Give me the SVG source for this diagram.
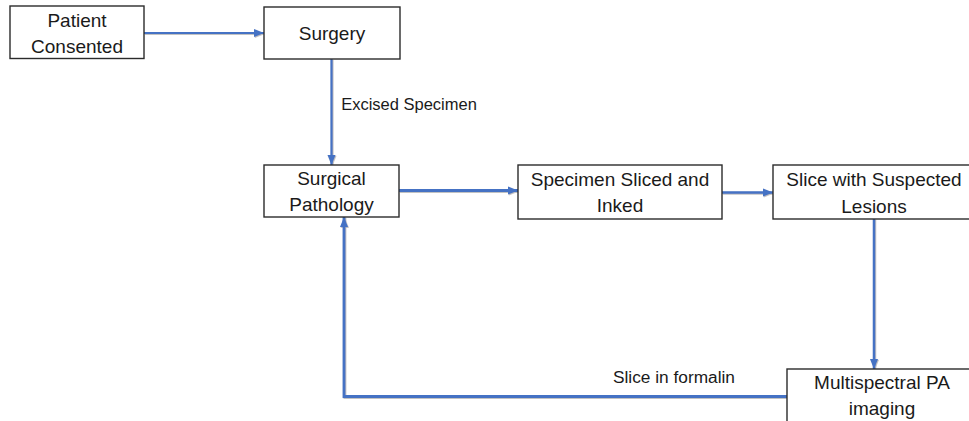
<svg xmlns="http://www.w3.org/2000/svg" width="969" height="421" viewBox="0 0 969 421">
<style>
.box{fill:#fff;stroke:#2b2b2b;stroke-width:1.4}
.t{font-family:"Liberation Sans",Arial,sans-serif;font-size:19px;fill:#1a1a1a;text-anchor:middle}
.lbl{font-family:"Liberation Sans",Arial,sans-serif;font-size:16.5px;fill:#1a1a1a;text-anchor:middle}
.c{fill:none;stroke:#4472C4;stroke-width:2.5;stroke-linejoin:miter}
</style>
<defs>
<marker id="ah" markerUnits="userSpaceOnUse" markerWidth="10" markerHeight="10" viewBox="0 0 10 10" refX="10" refY="5" orient="auto">
<path d="M0,1 L10,5 L0,9 z" fill="#4472C4"/>
</marker>
<filter id="sh" x="-5%" y="-5%" width="110%" height="110%">
<feDropShadow dx="0.8" dy="0.8" stdDeviation="0.5" flood-color="#808080" flood-opacity="0.6"/>
</filter>
</defs>
<g id="connectors">
<g filter="url(#sh)">
<path class="c" d="M144,33 L264,33" marker-end="url(#ah)" style="stroke-width:2.2"/>
<path class="c" d="M331.5,59 L331.5,165" marker-end="url(#ah)" style="stroke-width:2.2"/>
<path class="c" d="M399,190.5 L518,190.5" marker-end="url(#ah)" style="stroke-width:2.8"/>
<path class="c" d="M722,192.5 L773,192.5" marker-end="url(#ah)"/>
<path class="c" d="M874,219 L874,369" marker-end="url(#ah)"/>
<path class="c" d="M787,396.5 L344,396.5 L344,217" marker-end="url(#ah)" style="stroke-width:2.8"/>
</g>
<text class="lbl" x="409" y="110">Excised Specimen</text>
<text class="lbl" x="674" y="383" style="font-size:17.3px">Slice in formalin</text>
</g>
<g id="patient">
<rect class="box" x="10" y="6" width="134" height="52.5"/>
<text class="t" x="77" y="26.5">Patient</text>
<text class="t" x="77" y="52.5">Consented</text>
</g>
<g id="surgery">
<rect class="box" x="264" y="7" width="136" height="52"/>
<text class="t" x="332" y="39.5">Surgery</text>
</g>
<g id="pathology">
<rect class="box" x="264" y="165" width="135" height="52"/>
<text class="t" x="331.5" y="185">Surgical</text>
<text class="t" x="331.5" y="211">Pathology</text>
</g>
<g id="sliced">
<rect class="box" x="518" y="165" width="204" height="54"/>
<text class="t" x="620" y="186">Specimen Sliced and</text>
<text class="t" x="620" y="212">Inked</text>
</g>
<g id="lesions">
<rect class="box" x="773" y="165" width="202" height="54"/>
<text class="t" x="874" y="186">Slice with Suspected</text>
<text class="t" x="874" y="212.5">Lesions</text>
</g>
<g id="multispectral">
<rect class="box" x="787" y="369" width="190" height="70"/>
<text class="t" x="882" y="389">Multispectral PA</text>
<text class="t" x="882" y="415">imaging</text>
</g>
</svg>
